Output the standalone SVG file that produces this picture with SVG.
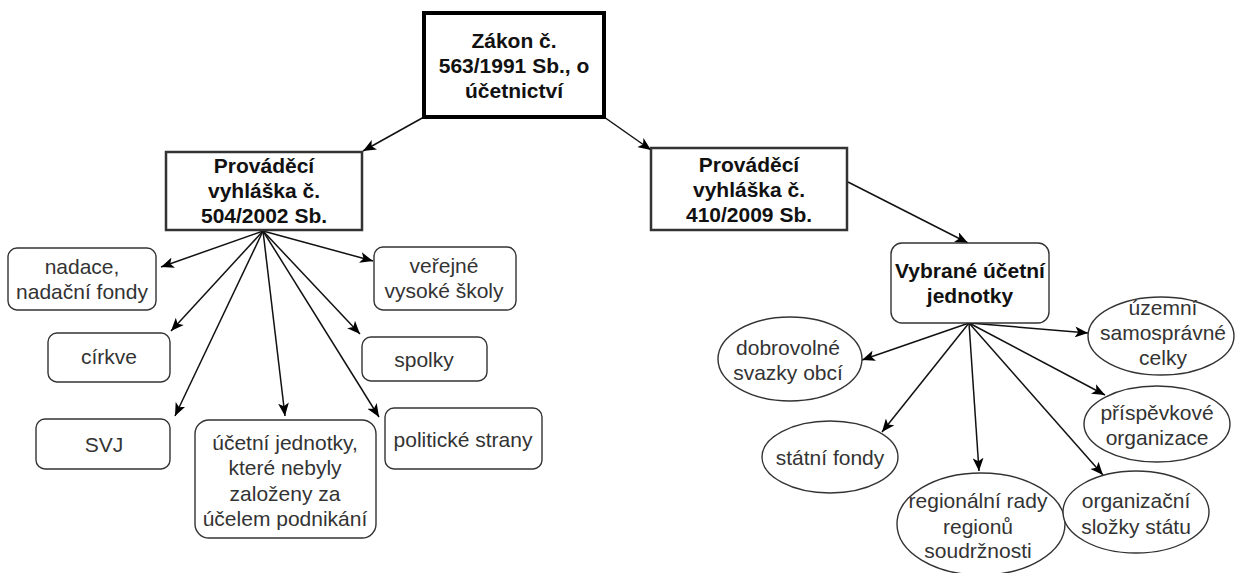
<svg xmlns="http://www.w3.org/2000/svg" width="1237" height="573" viewBox="0 0 1237 573">
  <style>
    .t { font-family: "Liberation Sans", Arial, sans-serif; font-size: 21px; fill: #333; text-anchor: middle; }
    .b { font-weight: bold; fill: #111; }
    .main { fill: #fff; stroke: #000; stroke-width: 4; }
    .sub { fill: #fff; stroke: #333; stroke-width: 2.5; }
    .box { fill: #fff; stroke: #333; stroke-width: 1.4; }
    .conn line { stroke: #111; stroke-width: 1.5; marker-end: url(#arrow); }
  </style>
  <defs>
    <!-- classic notched arrowhead shared by all connectors -->
    <marker id="arrow" viewBox="0 0 12 10" refX="12" refY="5" markerWidth="13" markerHeight="11" markerUnits="userSpaceOnUse" orient="auto">
      <path d="M0,0 L12,5 L0,10 L3,5 Z" fill="#000"/>
    </marker>
  </defs>
  <rect width="1237" height="573" fill="#fff"/>

  <g class="conn" id="connectors">
    <line x1="424" y1="117" x2="363" y2="151"/>
    <line x1="604" y1="117" x2="651" y2="150"/>
    <line x1="848" y1="182" x2="968" y2="243"/>
    <line x1="263" y1="231" x2="161" y2="267"/>
    <line x1="263" y1="231" x2="171" y2="331"/>
    <line x1="263" y1="231" x2="175" y2="416"/>
    <line x1="263" y1="231" x2="285" y2="416"/>
    <line x1="263" y1="231" x2="379" y2="417"/>
    <line x1="263" y1="231" x2="360" y2="334"/>
    <line x1="263" y1="231" x2="373" y2="261"/>
    <line x1="969" y1="323" x2="862" y2="360"/>
    <line x1="969" y1="323" x2="882" y2="432"/>
    <line x1="969" y1="323" x2="979" y2="471"/>
    <line x1="969" y1="323" x2="1103" y2="475"/>
    <line x1="969" y1="323" x2="1105" y2="395"/>
    <line x1="969" y1="323" x2="1088" y2="333"/>
  </g>

  <g id="zakon">
    <rect class="main" x="424" y="13" width="180" height="104"/>
    <text class="t b" x="514" y="48">Zákon č.</text>
    <text class="t b" x="514" y="73">563/1991 Sb., o</text>
    <text class="t b" x="514" y="98">účetnictví</text>
  </g>

  <g id="vyhlaska504">
    <rect class="sub" x="166" y="152" width="196" height="78"/>
    <text class="t b" x="264" y="173">Prováděcí</text>
    <text class="t b" x="264" y="198">vyhláška č.</text>
    <text class="t b" x="264" y="223">504/2002 Sb.</text>
  </g>

  <g id="vyhlaska410">
    <rect class="sub" x="651" y="148" width="196" height="82"/>
    <text class="t b" x="749" y="172">Prováděcí</text>
    <text class="t b" x="749" y="197">vyhláška č.</text>
    <text class="t b" x="749" y="222">410/2009 Sb.</text>
  </g>

  <g id="nadace">
    <rect class="box" x="8" y="248" width="148" height="62" rx="9"/>
    <text class="t" x="82" y="274">nadace,</text>
    <text class="t" x="82" y="299">nadační fondy</text>
  </g>

  <g id="cirkve">
    <rect class="box" x="48" y="333" width="122" height="49" rx="9"/>
    <text class="t" x="109" y="364">církve</text>
  </g>

  <g id="svj">
    <rect class="box" x="36" y="419" width="134" height="50" rx="9"/>
    <text class="t" x="104" y="452">SVJ</text>
  </g>

  <g id="ucetni-jednotky">
    <rect class="box" x="195" y="420" width="181" height="118" rx="14"/>
    <text class="t" x="285" y="450">účetní jednotky,</text>
    <text class="t" x="285" y="475">které nebyly</text>
    <text class="t" x="285" y="501">založeny za</text>
    <text class="t" x="285" y="526">účelem podnikání</text>
  </g>

  <g id="politicke-strany">
    <rect class="box" x="385" y="408" width="157" height="61" rx="9"/>
    <text class="t" x="463" y="447">politické strany</text>
  </g>

  <g id="spolky">
    <rect class="box" x="362" y="337" width="125" height="44" rx="9"/>
    <text class="t" x="424" y="367">spolky</text>
  </g>

  <g id="vysoke-skoly">
    <rect class="box" x="374" y="247" width="142" height="63" rx="9"/>
    <text class="t" x="444" y="273">veřejné</text>
    <text class="t" x="444" y="298">vysoké školy</text>
  </g>

  <g id="vybrane">
    <rect class="box" x="891" y="243" width="158" height="80" rx="11"/>
    <text class="t b" x="970" y="278">Vybrané účetní</text>
    <text class="t b" x="970" y="303">jednotky</text>
  </g>

  <g id="dobrovolne">
    <ellipse class="box" cx="790" cy="359" rx="72" ry="42"/>
    <text class="t" x="788" y="355">dobrovolné</text>
    <text class="t" x="788" y="380">svazky obcí</text>
  </g>

  <g id="statni-fondy">
    <ellipse class="box" cx="830" cy="457" rx="68" ry="36"/>
    <text class="t" x="830" y="465">státní fondy</text>
  </g>

  <g id="regionalni-rady">
    <ellipse class="box" cx="981" cy="524" rx="84" ry="51"/>
    <text class="t" x="978" y="508">regionální rady</text>
    <text class="t" x="978" y="534">regionů</text>
    <text class="t" x="978" y="558">soudržnosti</text>
  </g>

  <g id="organizacni-slozky">
    <ellipse class="box" cx="1136" cy="512" rx="73" ry="41"/>
    <text class="t" x="1136" y="508">organizační</text>
    <text class="t" x="1136" y="534">složky státu</text>
  </g>

  <g id="prispevkove">
    <ellipse class="box" cx="1157" cy="424" rx="73" ry="38"/>
    <text class="t" x="1157" y="420">příspěvkové</text>
    <text class="t" x="1157" y="445">organizace</text>
  </g>

  <g id="uzemni-celky">
    <ellipse class="box" cx="1161" cy="336" rx="73" ry="39"/>
    <text class="t" x="1163" y="315">územní</text>
    <text class="t" x="1163" y="340">samosprávné</text>
    <text class="t" x="1163" y="365">celky</text>
  </g>
</svg>
